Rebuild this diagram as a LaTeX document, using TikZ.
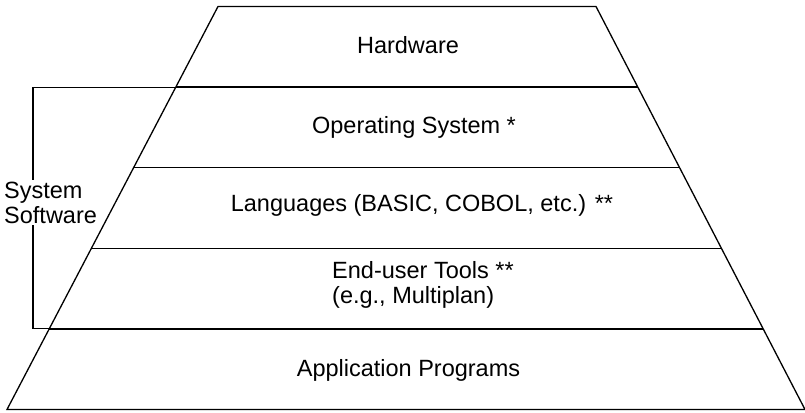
\documentclass[tikz,border=0pt]{standalone}
\usepackage{fontspec}
\setmainfont{Liberation Sans}
\usetikzlibrary{calc}
\begin{document}
\begin{tikzpicture}[x=1pt,y=-1pt,
  edge/.style={line width=1.3pt,line join=miter},
  lbl/.style={font=\fontsize{23.5}{25}\selectfont,inner sep=0pt},
  brk/.style={line width=1.1pt}]
\useasboundingbox (0,0) rectangle (805,412);
\coordinate (TL) at (218,6.5);
\coordinate (TR) at (596,6.5);
\coordinate (BR) at (805,409.5);
\coordinate (BL) at (7,409.5);
\draw[edge] (TL) -- (TR) -- (BR) -- (BL) -- cycle;
\foreach \t/\n in {0.2/1,0.4/2,0.6/3,0.8/4}{
  \coordinate (L\n) at ($(TL)!\t!(BL)$);
  \coordinate (R\n) at ($(TR)!\t!(BR)$);
  \draw[edge] (L\n) -- (R\n);
}
\node[lbl] (hw) at (408,45) {Hardware};
\node[lbl] (os) at (414,127) {Operating System *};
\node[lbl] (lang) at (422,205) {Languages (BASIC, COBOL, etc.) **};
\node[lbl,anchor=west,align=left] (eut) at (332,285) {End-user Tools **\\(e.g., Multiplan)};
\node[lbl] (app) at (408.5,370) {Application Programs};
\node[lbl,anchor=west,align=left] (sys) at (4,203) {System\\Software};
\coordinate (bx) at (33,0);
\coordinate (bt) at (bx |- L1);
\coordinate (bb) at (bx |- L4);
\draw[brk] (L1) -- (bt) -- ([yshift=2pt]bt |- sys.north);
\draw[brk] ([yshift=-1pt]bb |- sys.south) -- (bb) -- (L4);
\end{tikzpicture}
\end{document}
